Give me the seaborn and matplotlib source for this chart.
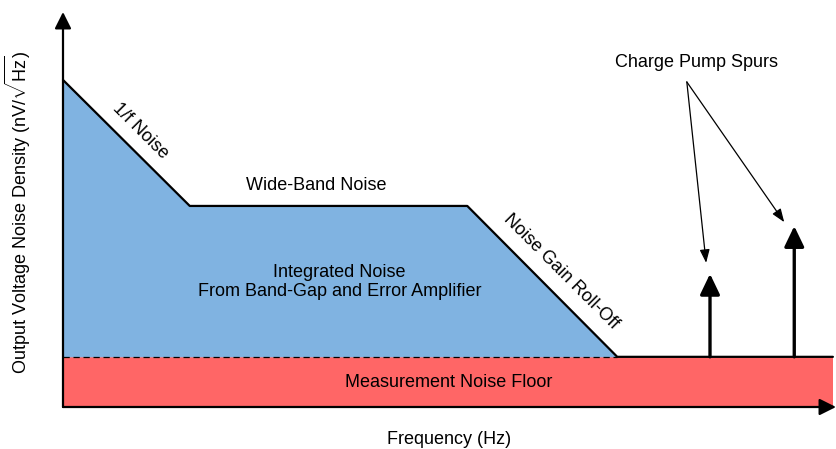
import matplotlib
matplotlib.use("Agg")
import matplotlib.pyplot as plt
import seaborn as sns
import pandas as pd

# conceptual noise spectrum (arbitrary units, x and y both 0..100)
freq = [0, 16.4, 52.3, 71.7, 99.6]
density = [82.8, 50.9, 50.9, 12.7, 12.7]
noise_floor = 12.7
spur_freq = [83.7, 94.6]
spur_level = [33.7, 45.8]

blue = "#80B3E1"
red = "#FF6666"

sns.set_theme(style="white")
plt.rcParams["font.family"] = ["Liberation Sans", "DejaVu Sans"]
plt.rcParams["mathtext.fontset"] = "custom"
plt.rcParams["mathtext.rm"] = "Liberation Sans"
plt.rcParams["text.color"] = "black"

fig = plt.figure(figsize=(8.36, 4.49), dpi=100)
ax = fig.add_axes([63 / 836, 42 / 449, 773 / 836, 395 / 449])
ax.set_xlim(0, 100)
ax.set_ylim(0, 100)
ax.axis("off")

df = pd.DataFrame({"freq": freq, "density": density})

# measurement floor band
ax.fill_between([0, 99.6], 0, noise_floor, color=red, lw=0, zorder=1)
# integrated noise area (only where above floor)
ax.fill_between(freq[:4], noise_floor, density[:4], color=blue, lw=0, zorder=1)
ax.plot([0, freq[3]], [noise_floor, noise_floor], color="black", lw=0.9,
        dashes=(5, 3), zorder=2)

sns.lineplot(data=df, x="freq", y="density", color="black", lw=1.6,
             ax=ax, zorder=3, clip_on=False)

# spurs
for f, lvl in zip(spur_freq, spur_level):
    ax.annotate("", xy=(f, lvl), xytext=(f, noise_floor),
                arrowprops=dict(arrowstyle="-|>,head_length=1.25,head_width=0.6",
                                lw=2.4, color="black", shrinkA=0, shrinkB=0,
                                mutation_scale=10), zorder=4)

# axes arrows
ax.annotate("", xy=(0, 1.0), xytext=(0, 0), xycoords="axes fraction",
            arrowprops=dict(arrowstyle="-|>,head_length=1.0,head_width=0.5",
                            lw=1.6, color="black", shrinkA=0, shrinkB=0,
                            mutation_scale=10), zorder=5)
ax.annotate("", xy=(1.0, 0), xytext=(0, 0), xycoords="axes fraction",
            arrowprops=dict(arrowstyle="-|>,head_length=1.0,head_width=0.5",
                            lw=1.6, color="black", shrinkA=0, shrinkB=0,
                            mutation_scale=10), zorder=5)

fs = 13
ax.text(32.7, 56.2, "Wide-Band Noise", ha="center", va="center", fontsize=fs)
ax.text(35.8, 31.6, "Integrated Noise\nFrom Band-Gap and Error Amplifier",
        ha="center", va="center", fontsize=fs, linespacing=1.15)
ax.text(49.9, 6.1, "Measurement Noise Floor", ha="center", va="center", fontsize=fs)
ax.text(10.0, 69.9, "1/f Noise", ha="center", va="center", fontsize=fs,
        rotation=-45, rotation_mode="anchor")
ax.text(64.4, 34.2, "Noise Gain Roll-Off", ha="center", va="center", fontsize=fs,
        rotation=-45, rotation_mode="anchor")
ax.text(82.0, 87.3, "Charge Pump Spurs", ha="center", va="center", fontsize=fs)

for tip in [(83.2, 36.5), (93.3, 46.8)]:
    ax.annotate("", xy=tip, xytext=(80.7, 82.3),
                arrowprops=dict(arrowstyle="-|>,head_length=0.8,head_width=0.3",
                                lw=0.9, color="black", shrinkA=0, shrinkB=0,
                                mutation_scale=10))

fig.text(449 / 836, 1 - 440 / 449, "Frequency (Hz)", ha="center", va="center",
         fontsize=fs)
fig.text(18 / 836, 1 - 212 / 449,
         r"Output Voltage Noise Density (nV/$\sqrt{\mathrm{Hz}}$)",
         ha="center", va="center", rotation=90, fontsize=fs)

fig.savefig("out.png", dpi=100, facecolor="white")
